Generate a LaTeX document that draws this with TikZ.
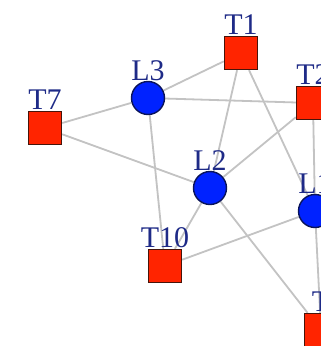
\documentclass[tikz,border=0pt]{standalone}
\usepackage{fontspec}
\setmainfont{Liberation Serif}
\usetikzlibrary{backgrounds}
\definecolor{sqred}{RGB}{255,36,0}
\definecolor{sqedge}{RGB}{70,20,10}
\definecolor{cblue}{RGB}{0,34,255}
\definecolor{cedge}{RGB}{10,20,90}
\definecolor{lblue}{RGB}{30,42,135}
\definecolor{egray}{RGB}{195,195,195}
\tikzset{
  lbl/.style={font=\fontsize{30}{30}\selectfont, text=lblue, inner sep=0pt},
  tnode/.style={rectangle, draw=sqedge, fill=sqred, line width=1.4pt, minimum size=33pt, inner sep=0pt,
    label={[lbl, label distance=1pt]above:#1}},
  lnode/.style={circle, draw=cedge, fill=cblue, line width=1.4pt, minimum size=33pt, inner sep=0pt,
    label={[lbl, label distance=0pt]above:#1}},
  edge/.style={draw=egray, line width=1.8pt}
}
\begin{document}
\begin{tikzpicture}[x=1pt, y=-1pt]
\useasboundingbox (0,0) rectangle (321,346);
\clip (0,0) rectangle (321,346);
\node[tnode=T1] (T1) at (241,53) {};
\node[tnode=T2] (T2) at (313,103) {};
\node[tnode=T7] (T7) at (45,128) {};
\node[tnode=T10] (T10) at (165,266) {};
\node[tnode=T] (T3) at (321,330) {};
\node[lnode=L3] (L3) at (148,98) {};
\node[lnode=L2] (L2) at (210,188) {};
\node[lnode=L1] (L1) at (315,211) {};
\begin{scope}[on background layer]
\fill[white] (0,0) rectangle (321,346);
\draw[edge] (L3) -- (T1);
\draw[edge] (L3) -- (T2);
\draw[edge] (L3) -- (T7);
\draw[edge] (L3) -- (T10);
\draw[edge] (T7) -- (L2);
\draw[edge] (T1) -- (L2);
\draw[edge] (T1) -- (L1);
\draw[edge] (T2) -- (L2);
\draw[edge] (T2) -- (L1);
\draw[edge] (L2) -- (T10);
\draw[edge] (L2) -- (T3);
\draw[edge] (T10) -- (L1);
\draw[edge] (L1) -- (T3);
\end{scope}
\end{tikzpicture}
\end{document}
